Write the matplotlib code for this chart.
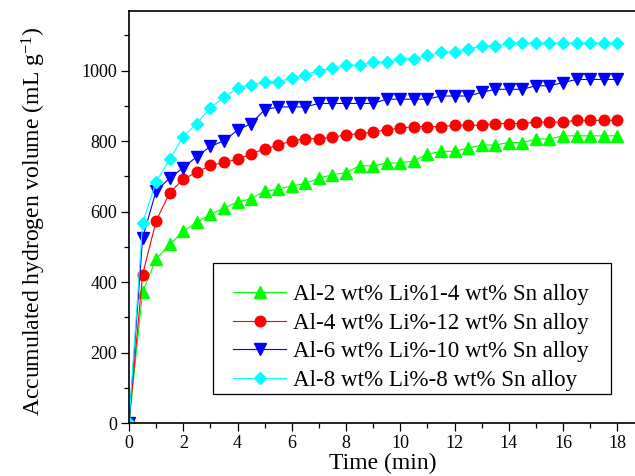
import numpy as np
import matplotlib
matplotlib.use("Agg")
import matplotlib.pyplot as plt
from matplotlib.ticker import MultipleLocator
from matplotlib.patches import Rectangle

plt.rcParams['font.family'] = ['Liberation Serif', 'DejaVu Serif']
plt.rcParams['mathtext.fontset'] = 'custom'
plt.rcParams['mathtext.rm'] = 'Liberation Serif'

# Sampling every 0.5 min over 18 min
time_min = np.arange(0, 18.5, 0.5)

# Accumulated H2 volume (mL/g) for each alloy
vol_li2 = [0, 372, 466, 507, 544, 570, 593, 610, 627, 637, 658, 664, 673, 680,
           695, 705, 711, 730, 730, 738, 738, 744, 763, 771, 771, 780, 789, 789,
           796, 796, 806, 806, 815, 815, 815, 815, 815]
vol_li4 = [0, 421, 574, 654, 692, 712, 731, 740, 748, 764, 778, 788, 801, 807,
           807, 811, 818, 821, 826, 832, 837, 841, 841, 841, 845, 845, 845, 850,
           850, 850, 854, 854, 854, 859, 859, 859, 859]
vol_li6 = [0, 525, 659, 695, 725, 756, 785, 801, 831, 850, 889, 897, 897, 897,
           907, 907, 907, 907, 907, 919, 919, 919, 919, 928, 928, 928, 938, 947,
           947, 947, 957, 957, 966, 975, 975, 975, 975]
vol_li8 = [0, 567, 685, 748, 813, 850, 895, 924, 951, 959, 969, 969, 978, 988,
           1000, 1006, 1015, 1015, 1024, 1024, 1034, 1034, 1043, 1052, 1052, 1060,
           1070, 1070, 1078, 1078, 1078, 1078, 1078, 1078, 1078, 1078, 1078]

labels = ['Al-2 wt% Li%1-4 wt% Sn alloy',
          'Al-4 wt% Li%-12 wt% Sn alloy',
          'Al-6 wt% Li%-10 wt% Sn alloy',
          'Al-8 wt% Li%-8 wt% Sn alloy']

fig = plt.figure(figsize=(6.35, 4.76), dpi=100)
# axes runs a little past the right edge of the figure
ax = fig.add_axes([129 / 635, 52.7 / 476, 515.4 / 635, 412.3 / 476])

ax.plot(time_min, vol_li2, color='#00ff00', lw=0.8, marker='^', ms=8.4, mec='#00ff00', label=labels[0])
ax.plot(time_min, vol_li4, color='#ff0000', lw=0.8, marker='o', ms=7.6, mec='#ff0000', label=labels[1])
ax.plot(time_min, vol_li6, color='#0000ff', lw=0.8, marker='v', ms=8.4, mec='#0000ff', label=labels[2])
ax.plot(time_min, vol_li8, color='#00ffff', lw=0.8, marker='D', ms=6.3, mec='#00ffff', label=labels[3])

ax.set_xlim(0, 19)
ax.set_ylim(0, 1169)
ax.xaxis.set_major_locator(MultipleLocator(2))
ax.xaxis.set_minor_locator(MultipleLocator(1))
ax.yaxis.set_major_locator(MultipleLocator(200))
ax.yaxis.set_minor_locator(MultipleLocator(100))

ax.tick_params(which='both', direction='out', top=False, right=False, width=0.9, labelsize=13, pad=2.5)
ax.tick_params(which='major', length=6)
ax.tick_params(which='minor', length=3.5)
for sp in ax.spines.values():
    sp.set_linewidth(1.2)

ax.set_xlabel('Time (min)', fontsize=17)
ax.set_ylabel('Accumulated hydrogen volume (mL g$\\mathregular{^{-1}}$)', fontsize=17)
ax.xaxis.set_label_coords(0.492, -0.071)
ax.yaxis.set_label_coords(-0.158, 0.49)

# legend box drawn separately so the entries can sit lower inside it
box = Rectangle((0.1636, 0.0711), 0.9346 - 0.1636, 0.3895 - 0.0711, transform=ax.transAxes,
                facecolor='white', edgecolor='black', lw=0.9, zorder=4.9)
ax.add_patch(box)
leg = ax.legend(loc='upper left', bbox_to_anchor=(0.2018, 0.338), fontsize=16.6,
                frameon=False, handlelength=2.3, handletextpad=0.3, labelspacing=0.32,
                borderpad=0, borderaxespad=0)

fig.savefig('out.png', dpi=100)
